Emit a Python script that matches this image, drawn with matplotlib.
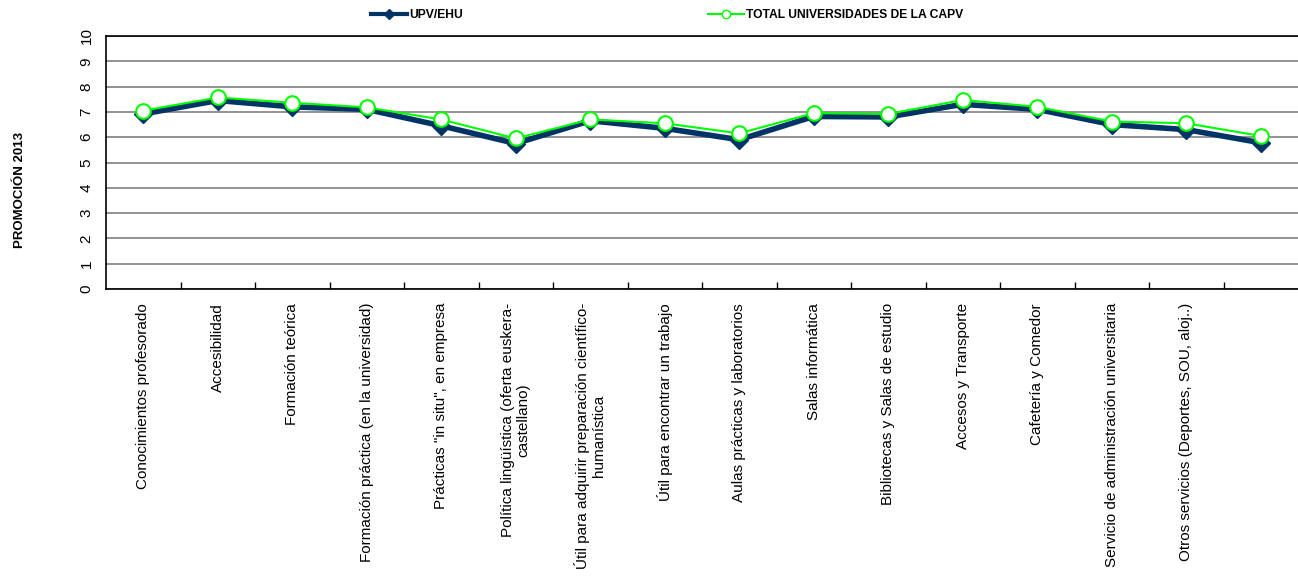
import matplotlib
matplotlib.use("Agg")
import matplotlib.pyplot as plt
from matplotlib.lines import Line2D
import numpy as np

plt.rcParams["font.family"] = ["Liberation Sans", "DejaVu Sans"]

categories = [
    "Conocimientos profesorado",
    "Accesibilidad",
    "Formación teórica",
    "Formación práctica (en la universidad)",
    "Prácticas \"in situ\", en empresa",
    "Política lingüística (oferta euskera-\ncastellano)",
    "Útil para adquirir preparación científico-\nhumanística",
    "Útil para encontrar un trabajo",
    "Aulas prácticas y laboratorios",
    "Salas informática",
    "Bibliotecas y Salas de estudio",
    "Accesos y Transporte",
    "Cafetería y Comedor",
    "Servicio de administración universitaria",
    "Otros servicios (Deportes, SOU, aloj..)",
    "",
]

upv_ehu = [6.92, 7.45, 7.20, 7.10, 6.45, 5.75, 6.65, 6.35, 5.90, 6.82, 6.80, 7.30, 7.10, 6.50, 6.30, 5.78]
total_capv = [7.05, 7.57, 7.36, 7.18, 6.70, 5.95, 6.70, 6.55, 6.15, 6.95, 6.92, 7.47, 7.20, 6.62, 6.55, 6.05]

y_ticks = list(range(0, 11))

series_labels = ["UPV/EHU", "TOTAL UNIVERSIDADES DE LA CAPV"]
navy = "#003366"
green = "#00FF00"

W, H = 1298, 576
fig = plt.figure(figsize=(W / 100, H / 100), dpi=100)
ax = fig.add_axes([106 / W, 1 - 289 / H, (1298 - 106) / W, (289 - 36) / H])

x = np.arange(len(categories))

ax.plot(x, upv_ehu, color=navy, lw=4, marker="D", markersize=9,
        markerfacecolor=navy, markeredgecolor=navy, zorder=3, solid_joinstyle="miter")
ax.plot(x, total_capv, color=green, lw=1.5, marker="o", markersize=10.5,
        markerfacecolor="white", markeredgecolor=green, markeredgewidth=1.5, zorder=4)

ax.set_xlim(-0.5, len(categories) - 0.5)
ax.set_ylim(0, 10)

ax.set_yticks(y_ticks)
ax.set_yticklabels([str(t) for t in y_ticks], rotation=90, va="center", fontsize=11)
ax.tick_params(axis="y", length=0, pad=9)

ax.set_xticks(x)
ax.set_xticklabels(categories, rotation=90, ha="center", va="top",
                   multialignment="center", fontsize=11)
ax.tick_params(axis="x", which="major", length=0, pad=10)
ax.set_xticks(np.arange(0.5, len(categories) - 0.5, 1), minor=True)
ax.tick_params(axis="x", which="minor", direction="in", length=5, width=1, color="black")

ax.yaxis.grid(True, color="#808080", lw=1.2)
ax.set_axisbelow(True)
for side in ["left", "bottom", "top"]:
    ax.spines[side].set_color("black")
    ax.spines[side].set_linewidth(1.2)
ax.spines["right"].set_visible(False)

fig.text(20 / W, 1 - 190 / H, "PROMOCIÓN 2013", rotation=90, ha="center", va="center",
         fontsize=9.5, fontweight="bold")

handles = [
    Line2D([], [], color=navy, lw=3, marker="D", markersize=5, markerfacecolor=navy),
    Line2D([], [], color=green, lw=1.5, marker="o", markersize=6,
           markerfacecolor="white", markeredgecolor=green),
]
fig.legend(handles, series_labels, loc="center left", bbox_to_anchor=(371 / W, 1 - 15 / H),
           ncol=2, frameon=False, borderpad=0, borderaxespad=0, handlelength=3.0,
           handletextpad=0.15, columnspacing=20.3, prop={"weight": "bold", "size": 8.7})

fig.savefig("out.png", dpi=100)
